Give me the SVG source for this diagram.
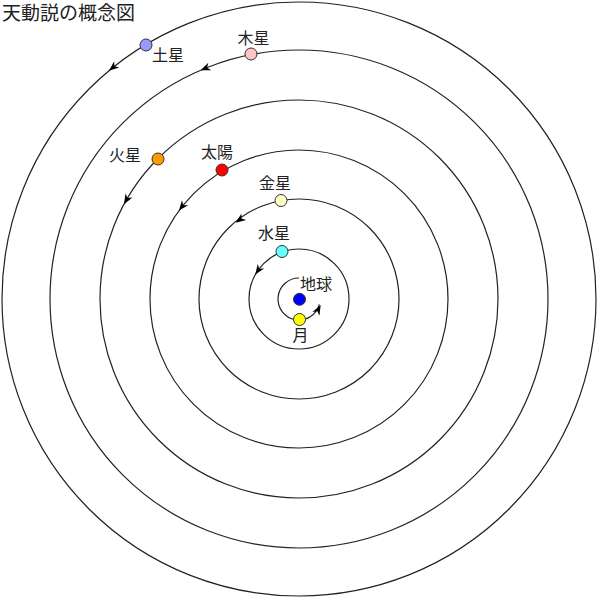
<svg xmlns="http://www.w3.org/2000/svg" width="600" height="600" viewBox="0 0 600 600">
<style>
.orbit{fill:none;stroke:#222;stroke-width:1.2}
.body{stroke:#333;stroke-width:1}
.lbl{font-family:"Noto Sans CJK JP","Noto Sans",sans-serif;font-size:16px;fill:#222}
.title{font-family:"Noto Sans CJK JP","Noto Sans",sans-serif;font-size:19px;fill:#222}
</style>
<defs>
<path id="arr" d="M5,0 L-5,-4 L-2,0 L-5,4 Z" fill="#000"/>
</defs>
<rect width="600" height="600" fill="#fff"/>
<text class="title" x="2" y="20">天動説の概念図</text>
<g id="connectors">
<circle class="orbit" cx="299" cy="299" r="297"/>
<circle class="orbit" cx="299" cy="299" r="249"/>
<circle class="orbit" cx="299" cy="299" r="199"/>
<circle class="orbit" cx="299" cy="299" r="149"/>
<circle class="orbit" cx="299" cy="299" r="100"/>
<circle class="orbit" cx="299" cy="299" r="50"/>
<path class="orbit" d="M299,278 A21,21 0 1,0 319.3,304.4"/>
<use href="#arr" transform="translate(112.8,67.6) rotate(141.2)"/>
<use href="#arr" transform="translate(205.2,68.4) rotate(157.9)"/>
<use href="#arr" transform="translate(126.5,199.8) rotate(119.9)"/>
<use href="#arr" transform="translate(182,206.7) rotate(128.3)"/>
<use href="#arr" transform="translate(239.8,219.7) rotate(143.3)"/>
<use href="#arr" transform="translate(258.1,270.3) rotate(125.1)"/>
<use href="#arr" transform="translate(318.3,309.5) rotate(-61.5)"/>
</g>
<g id="saturn"><circle class="body" cx="146" cy="45" r="6" fill="#9999ff"/><text class="lbl" x="152" y="61">土星</text></g>
<g id="jupiter"><circle class="body" cx="251" cy="54" r="6" fill="#ffc4c4"/><text class="lbl" x="237.5" y="44">木星</text></g>
<g id="mars"><circle class="body" cx="158" cy="159" r="6" fill="#ff9900"/><text class="lbl" x="109" y="161">火星</text></g>
<g id="sun"><circle class="body" cx="222" cy="170" r="6" fill="#ff0000"/><text class="lbl" x="201" y="158">太陽</text></g>
<g id="venus"><circle class="body" cx="281" cy="200.5" r="6" fill="#ffffcc"/><text class="lbl" x="259" y="189">金星</text></g>
<g id="mercury"><circle class="body" cx="282" cy="251.5" r="6" fill="#66ffff"/><text class="lbl" x="258" y="239">水星</text></g>
<g id="earth"><circle class="body" cx="299.5" cy="299.3" r="6" fill="#0000ff"/><text class="lbl" x="300" y="290">地球</text></g>
<g id="moon"><circle class="body" cx="299.5" cy="319.5" r="6" fill="#ffff00"/><text class="lbl" x="292.5" y="341">月</text></g>
</svg>
